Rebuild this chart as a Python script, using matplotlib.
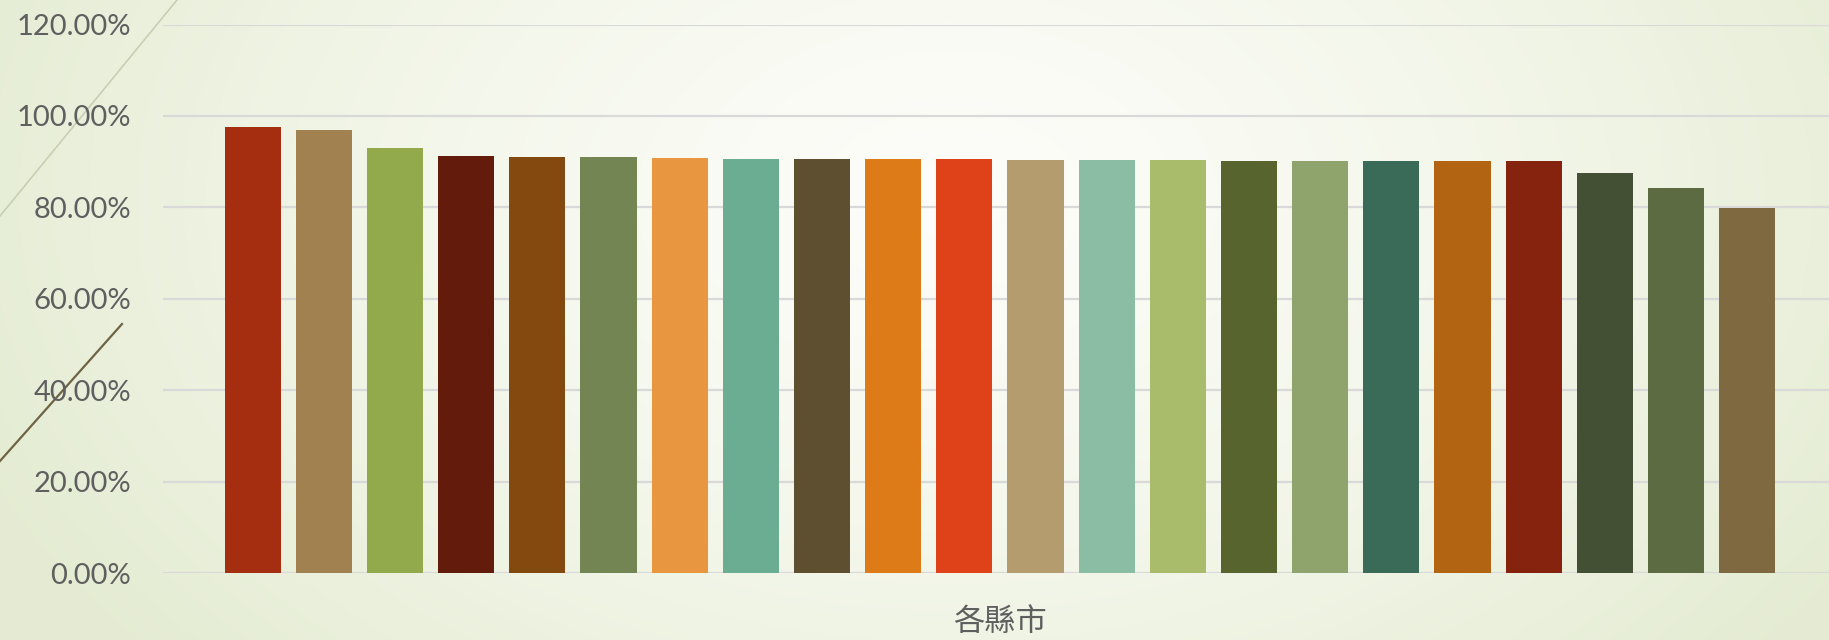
import numpy as np
import matplotlib
matplotlib.use("Agg")
import matplotlib.pyplot as plt
from matplotlib.ticker import FuncFormatter

# 各縣市 比例 (依序由高到低)
values = [97.5, 97.0, 92.95, 91.2, 91.0, 91.0, 90.8, 90.6, 90.6, 90.6, 90.6,
          90.35, 90.35, 90.35, 90.1, 90.1, 90.1, 90.1, 90.1, 87.6, 84.3, 79.9]
colors = ["#A52D10", "#A0814F", "#93AA4C", "#631B0B", "#84490F", "#738553",
          "#E8963F", "#6AAD92", "#5D4F30", "#DD7B18", "#DF4118", "#B59C6E",
          "#8BBDA5", "#A8BC6C", "#58642D", "#8FA46D", "#3A6A58", "#B26412",
          "#85230E", "#435033", "#5D6B42", "#7F6941"]
y_ticks = [0, 20, 40, 60, 80, 100, 120]
x_label = "各縣市"

W, H = 1829, 640
fig = plt.figure(figsize=(W / 100, H / 100), dpi=100)

# 背景：淡綠色放射漸層
bg = fig.add_axes([0, 0, 1, 1])
yy, xx = np.mgrid[0:H, 0:W]
d = np.sqrt(((xx - 950) / 1050.0) ** 2 + ((yy - 200) / 700.0) ** 2)
d = np.clip(d, 0, 1)
c0 = np.array([0.99, 0.992, 0.975])
c1 = np.array([0.895, 0.925, 0.825])
img = c0 + (c1 - c0) * d[..., None] ** 1.4
bg.imshow(img, aspect="auto", extent=[0, W, H, 0])
# 投影片裝飾線
bg.plot([0, 177], [216, 0], color="#C8CFB2", lw=1.2)
bg.plot([0, 122], [461, 324], color="#6E6444", lw=1.6)
bg.set_xlim(0, W)
bg.set_ylim(H, 0)
bg.axis("off")

ax = fig.add_axes([163 / W, 1 - 573 / H, 1 - 163 / W, (573 - 24.5) / H])
ax.patch.set_alpha(0)
x = np.arange(len(values))
ax.bar(x, [v / 100 for v in values], width=0.79, color=colors, zorder=3)

ax.set_ylim(0, 1.2)
ax.set_xlim(-1.26, len(values) - 1 + 1.15)
ax.set_yticks([t / 100 for t in y_ticks])
ax.yaxis.set_major_formatter(FuncFormatter(lambda v, p: f"{v * 100:.2f}%"))
ax.grid(axis="y", color="#D9D9D9", lw=1.6, zorder=0)
ax.set_xticks([])
for s in ax.spines.values():
    s.set_visible(False)
ax.tick_params(axis="y", length=0, pad=23, labelsize=21, labelcolor="#5F5F5F")
for lab in ax.get_yticklabels():
    lab.set_fontfamily("Lato")

fig.text(1000 / W, 1 - 622 / H, x_label, ha="center", va="center",
         fontsize=22.5, color="#5F5F5F",
         family=["Noto Sans CJK TC", "DejaVu Sans"])

fig.savefig("out.png", dpi=100)
